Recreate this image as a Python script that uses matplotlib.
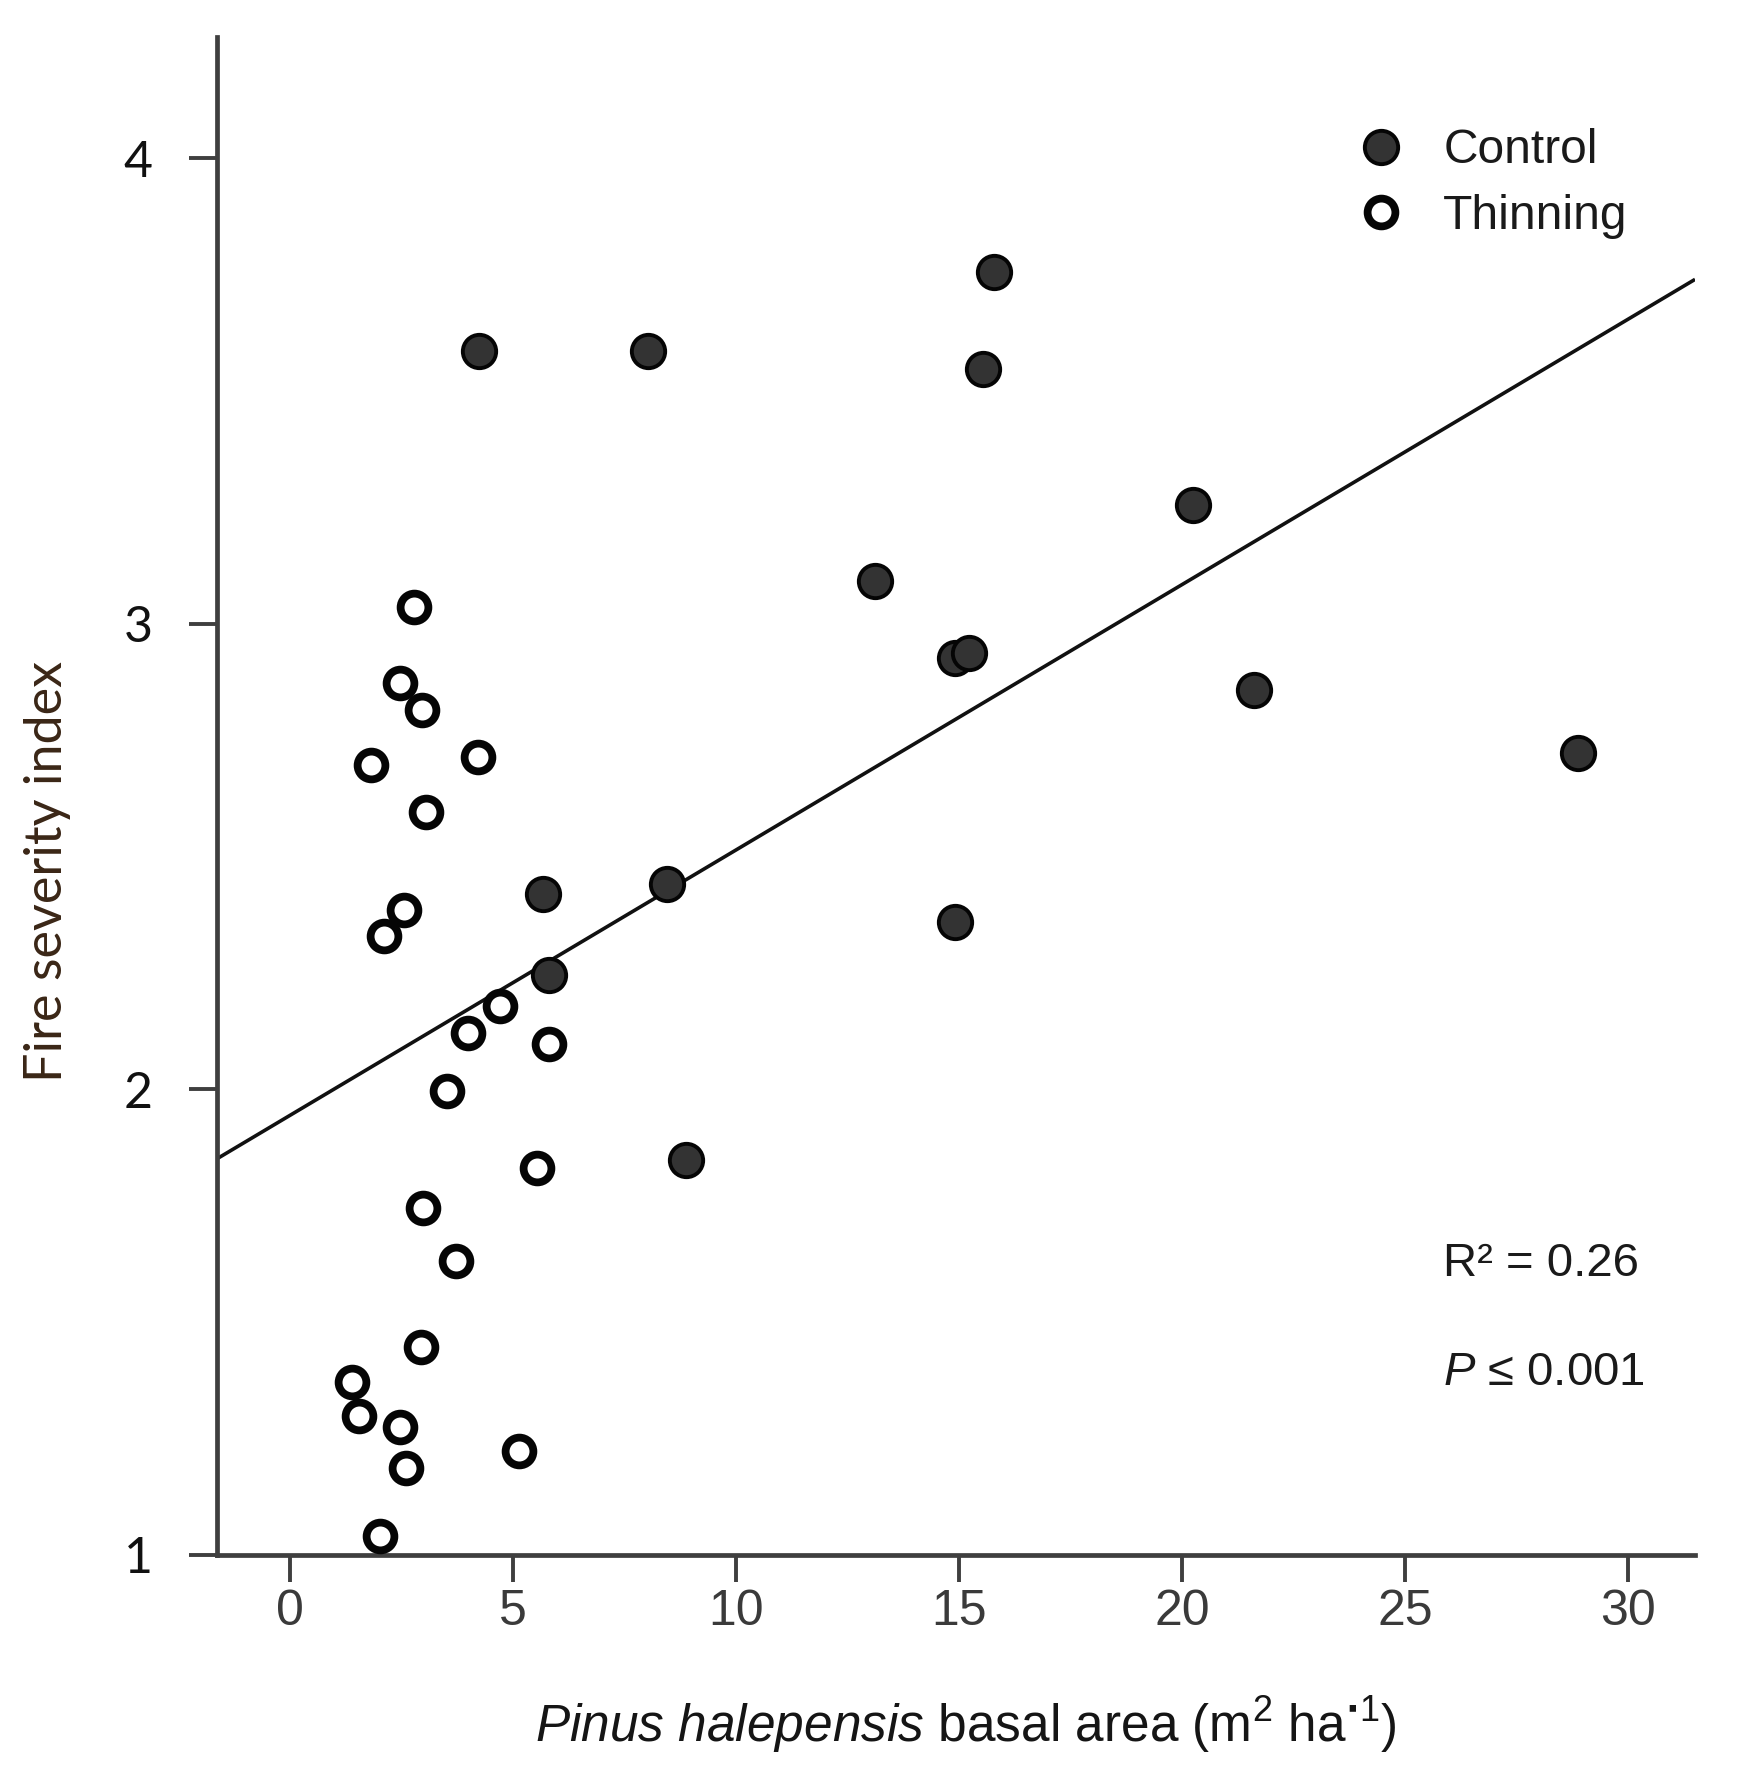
import numpy as np
import matplotlib
matplotlib.use("Agg")
import matplotlib.pyplot as plt

plt.rcParams['mathtext.fontset'] = 'custom'
plt.rcParams['mathtext.rm'] = 'Liberation Sans'
plt.rcParams['mathtext.it'] = 'Liberation Sans:italic'

# control plots (filled)
control_x = [4.23, 8.03, 15.78, 15.53, 20.24, 13.12, 14.92, 15.23, 21.61, 28.88,
             5.68, 8.46, 14.92, 5.80, 8.87]
control_y = [3.585, 3.585, 3.755, 3.546, 3.254, 3.091, 2.926, 2.938, 2.858, 2.722,
             2.419, 2.440, 2.360, 2.246, 1.848]

# thinning plots (open)
thin_x = [2.79, 2.46, 2.96, 1.82, 4.21, 3.04, 2.56, 2.10, 4.71, 4.00, 5.80,
          3.52, 5.55, 2.99, 3.72, 2.94, 1.39, 1.55, 2.46, 5.14, 2.61, 2.03]
thin_y = [3.036, 2.873, 2.815, 2.696, 2.713, 2.596, 2.385, 2.329, 2.178, 2.122, 2.098,
          1.996, 1.831, 1.746, 1.632, 1.447, 1.372, 1.299, 1.274, 1.223, 1.187, 1.041]

# regression line
fit_intercept = 1.944
fit_slope = 0.057
r2_text = "R² = 0.26"
p_text = r"$\mathit{P}$ ≤ 0.001"

x_ticks = [0, 5, 10, 15, 20, 25, 30]
y_ticks = [1, 2, 3, 4]
x_lim = (-1.64, 31.5)
y_lim = (1.0, 4.26)

fig = plt.figure(figsize=(17.41, 17.71), dpi=100)
ax = fig.add_axes([0.1245, 0.122, 0.8491, 0.8571])

# regression line
xs = np.array(x_lim)
ax.plot(xs, fit_intercept + fit_slope * xs, color='#111111', lw=2.6, zorder=2,
        solid_capstyle='butt')

ax.plot(control_x, control_y, 'o', ms=24, mfc='#333333', mec='#050505', mew=2.8,
        label='Control', zorder=3, clip_on=False)
ax.plot(thin_x, thin_y, 'o', ms=20.0, mfc='white', mec='#050505', mew=5.6,
        label='Thinning', zorder=3, clip_on=False)

ax.set_xlim(*x_lim)
ax.set_ylim(*y_lim)

for s in ['top', 'right']:
    ax.spines[s].set_visible(False)
for s in ['left', 'bottom']:
    ax.spines[s].set_linewidth(3.4)
    ax.spines[s].set_color('#3f3f3f')

ax.set_xticks(x_ticks)
ax.set_yticks(y_ticks)
ax.set_xticklabels([str(t) for t in x_ticks],
                   family=['Liberation Sans Narrow', 'Liberation Sans'],
                   fontsize=36, color='#3a3a3a')
ax.set_yticklabels([str(t) for t in y_ticks], family=['Lato', 'DejaVu Sans'],
                   fontsize=36, color='#111111')
ax.tick_params(axis='x', direction='out', length=19.5, width=2.8, color='#3f3f3f', pad=5)
ax.tick_params(axis='y', direction='out', length=20, width=2.8, color='#3f3f3f', pad=26)

ax.set_xlabel(r"$\mathit{Pinus\ halepensis}$ basal area (m$^{2}$ ha$^{\mathbf{\cdot}1}$)",
              family='Liberation Sans', fontsize=37, color='#151515')
ax.xaxis.set_label_coords(0.507, -0.112)
ax.xaxis.label.set_va('center')

ax.set_ylabel("Fire severity index", family=['Lato', 'DejaVu Sans'], fontsize=37.5,
              color='#3a2616')
ax.yaxis.set_label_coords(-0.1148, 0.4506)
ax.yaxis.label.set_va('center')

leg = ax.legend(loc='upper left', bbox_to_anchor=(0.7795, 0.9275),
                bbox_transform=fig.transFigure, frameon=False, borderpad=0,
                borderaxespad=0, handlelength=1.0, handletextpad=0.8,
                labelspacing=0.42, prop={'family': 'Liberation Sans', 'size': 34.5})
for t in leg.get_texts():
    t.set_color('#1a1a1a')

fig.text(0.829, 0.2865, r2_text, family=['Liberation Sans', 'DejaVu Sans'],
         fontsize=34, color='#1a1a1a', ha='left', va='center')
fig.text(0.829, 0.2245, p_text, family=['Liberation Sans', 'DejaVu Sans'],
         fontsize=34, color='#1a1a1a', ha='left', va='center')

fig.savefig('out.png', dpi=100)
